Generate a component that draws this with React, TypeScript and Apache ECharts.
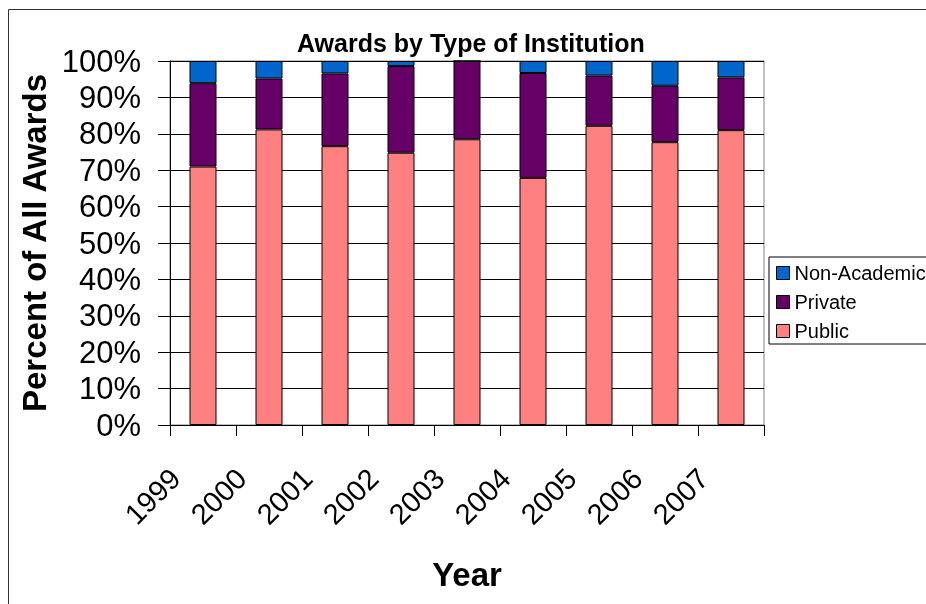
import React, { useEffect, useRef } from "react";
import * as echarts from "echarts";

const years = ["1999", "2000", "2001", "2002", "2003", "2004", "2005", "2006", "2007"];
const publicPct = [71.0, 81.2, 76.6, 74.8, 78.5, 67.9, 82.2, 77.7, 81.0];
const privatePct = [22.9, 14.0, 20.0, 23.8, 21.5, 28.8, 13.8, 15.5, 14.5];
const nonAcademicPct = [6.1, 4.8, 3.4, 1.4, 0, 3.3, 4.0, 6.8, 4.5];

const FONT = "'Liberation Sans', Arial, sans-serif";

export default function App() {
  const ref = useRef<HTMLDivElement>(null);
  useEffect(() => {
    document.documentElement.style.overflow = "hidden";
    if (!ref.current) return;
    const chart = echarts.init(ref.current, null, { renderer: "svg" });
    const barStyle = (color: string) => ({ color, borderColor: "#000", borderWidth: 1 });
    chart.setOption({
      animation: false,
      textStyle: { fontFamily: FONT },
      title: {
        text: "Awards by Type of Institution",
        left: 289,
        top: 22,
        padding: 0,
        textStyle: { fontSize: 25, fontWeight: "bold", color: "#000", fontFamily: FONT },
      },
      legend: {
        orient: "vertical",
        left: 761,
        top: 249,
        padding: [6, 8, 3, 7],
        itemGap: 9,
        itemWidth: 13,
        itemHeight: 13,
        borderColor: "#000",
        borderWidth: 1,
        icon: "rect",
        data: ["Non-Academic", "Private", "Public"],
        textStyle: { fontSize: 20, color: "#000", lineHeight: 20, fontFamily: FONT },
        itemStyle: { borderColor: "#000", borderWidth: 1 },
      },
      grid: {
        left: 162,
        top: 53,
        width: 594,
        height: 364,
        show: true,
        borderColor: "#808080",
        borderWidth: 1,
        backgroundColor: "transparent",
      },
      xAxis: {
        type: "category",
        data: years,
        axisLine: { lineStyle: { color: "#000" } },
        axisTick: { show: true, interval: 0, length: 11, lineStyle: { color: "#000" } },
        axisLabel: {
          interval: 0,
          rotate: 45,
          fontSize: 29,
          color: "#000",
          margin: 21,
          padding: [0, 39, 0, 0],
          fontFamily: FONT,
        },
        name: "Year",
        nameLocation: "middle",
        nameGap: 133,
        nameTextStyle: { fontSize: 33, fontWeight: "bold", color: "#000", fontFamily: FONT },
      },
      yAxis: {
        type: "value",
        min: 0,
        max: 100,
        interval: 10,
        axisLine: { show: true, lineStyle: { color: "#000" } },
        axisTick: { show: true, length: 12, lineStyle: { color: "#000" } },
        axisLabel: { formatter: "{value}%", fontSize: 31, color: "#000", margin: 29, fontFamily: FONT },
        splitLine: { show: true, lineStyle: { color: "#000" } },
        name: "Percent of All Awards",
        nameLocation: "middle",
        nameRotate: 90,
        nameGap: 112,
        nameTextStyle: { fontSize: 33, fontWeight: "bold", color: "#000", fontFamily: FONT },
      },
      series: [
        { name: "Public", type: "bar", stack: "all", barWidth: 27, data: publicPct, itemStyle: barStyle("#FF8080") },
        { name: "Private", type: "bar", stack: "all", barWidth: 27, data: privatePct, itemStyle: barStyle("#660066") },
        { name: "Non-Academic", type: "bar", stack: "all", barWidth: 27, data: nonAcademicPct, itemStyle: barStyle("#0066CC") },
      ],
      graphic: [
        {
          type: "rect",
          silent: true,
          z: -10,
          shape: { x: 0.5, y: 1.5, width: 2000, height: 2000 },
          style: { fill: "none", stroke: "#333", lineWidth: 1 },
        },
      ],
    });
    return () => chart.dispose();
  }, []);
  return (
    <div
      ref={ref}
      style={{ position: "fixed", left: 8, top: 8, width: 960, height: 620 }}
    />
  );
}
